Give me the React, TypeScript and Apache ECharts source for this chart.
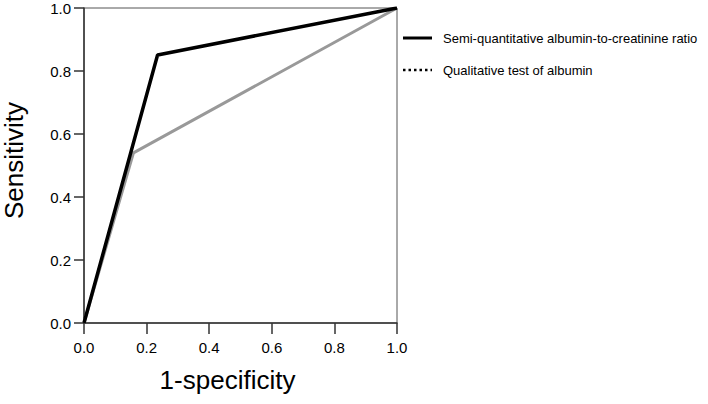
import React, { useEffect, useRef } from "react";
import * as echarts from "echarts";

const seriesNames = [
  "Semi-quantitative albumin-to-creatinine ratio",
  "Qualitative test of albumin",
];
const semiQuantFpr = [0, 0.235, 1];
const semiQuantTpr = [0, 0.851, 1];
const qualFpr = [0, 0.158, 1];
const qualTpr = [0, 0.54, 1];
const xTitle = "1-specificity";
const yTitle = "Sensitivity";

export default function App() {
  const ref = useRef<HTMLDivElement>(null);
  useEffect(() => {
    if (!ref.current) return;
    const chart = echarts.init(ref.current, undefined, { renderer: "svg" });
    const font = "Arial, 'Liberation Sans', sans-serif";
    chart.setOption({
      animation: false,
      backgroundColor: "#fff",
      grid: {
        left: 82,
        top: 8,
        width: 315,
        height: 315,
        show: true,
        borderColor: "#555",
        borderWidth: 1,
        backgroundColor: "transparent",
      },
      xAxis: {
        type: "value",
        min: 0,
        max: 1,
        interval: 0.2,
        name: xTitle,
        nameLocation: "middle",
        nameGap: 44,
        nameTextStyle: {
          fontFamily: font,
          fontSize: 26,
          color: "#000",
          padding: [0, 26, 0, 0],
        },
        axisLine: { show: true, onZero: false, lineStyle: { color: "#333", width: 1.5 } },
        axisTick: { show: true, inside: false, length: 11, lineStyle: { color: "#333", width: 1.5 } },
        axisLabel: {
          margin: 17,
          fontFamily: font,
          fontSize: 15,
          color: "#000",
          formatter: (v: number) => v.toFixed(1),
        },
        splitLine: { show: false },
      },
      yAxis: {
        type: "value",
        min: 0,
        max: 1,
        interval: 0.2,
        name: yTitle,
        nameLocation: "middle",
        nameGap: 57,
        nameTextStyle: {
          fontFamily: font,
          fontSize: 26,
          color: "#000",
          padding: [0, 0, 0, 10],
        },
        axisLine: { show: true, onZero: false, lineStyle: { color: "#333", width: 1.5 } },
        axisTick: { show: true, inside: false, length: 10, lineStyle: { color: "#333", width: 1.5 } },
        axisLabel: {
          margin: 13,
          fontFamily: font,
          fontSize: 15,
          color: "#000",
          formatter: (v: number) => v.toFixed(1),
        },
        splitLine: { show: false },
      },
      graphic: [
        {
          type: "line",
          shape: { x1: 403, y1: 38, x2: 432, y2: 38 },
          style: { stroke: "#000", lineWidth: 3 },
        },
        {
          type: "text",
          x: 443,
          y: 38,
          style: {
            text: seriesNames[0],
            fontFamily: font,
            fontSize: 13,
            fill: "#000",
            verticalAlign: "middle",
            align: "left",
          },
        },
        {
          type: "line",
          shape: { x1: 403, y1: 70, x2: 432, y2: 70 },
          style: { stroke: "#000", lineWidth: 2.5, lineDash: [2.5, 3] },
        },
        {
          type: "text",
          x: 443,
          y: 70,
          style: {
            text: seriesNames[1],
            fontFamily: font,
            fontSize: 13,
            fill: "#000",
            verticalAlign: "middle",
            align: "left",
          },
        },
      ],
      series: [
        {
          name: seriesNames[1],
          type: "line",
          data: qualFpr.map((x, i) => [x, qualTpr[i]]),
          symbol: "none",
          lineStyle: { color: "#999", width: 3 },
          itemStyle: { color: "#999" },
          z: 2,
        },
        {
          name: seriesNames[0],
          type: "line",
          data: semiQuantFpr.map((x, i) => [x, semiQuantTpr[i]]),
          symbol: "none",
          lineStyle: { color: "#000", width: 3.5 },
          itemStyle: { color: "#000" },
          z: 3,
        },
      ],
    });
    return () => chart.dispose();
  }, []);
  return (
    <div
      ref={ref}
      style={{ position: "absolute", left: 0, top: 0, width: 708, height: 404 }}
    />
  );
}
